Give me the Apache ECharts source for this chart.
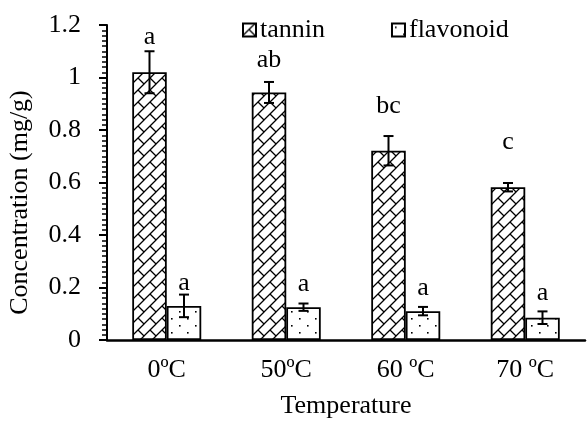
<!DOCTYPE html>
<html><head><meta charset="utf-8">
<script src="https://cdn.jsdelivr.net/npm/echarts@6/dist/echarts.min.js"></script>
<style>html,body{margin:0;padding:0;background:#fff}#c{width:587px;height:421px}</style>
</head><body><div id="c"></div>
<script>
var categories = ['0ºC', '50ºC', '60 ºC', '70 ºC'];
var tannin = [1.02, 0.943, 0.721, 0.582];
var tanninErr = [0.08, 0.04, 0.056, 0.016];
var flavonoid = [0.13, 0.125, 0.11, 0.085];
var flavonoidErr = [0.043, 0.014, 0.016, 0.024];
var tanninLetters = ['a', 'ab', 'bc', 'c'];
var tanninLetterY = [1.155, 1.067, 0.889, 0.755];
var flavonoidLetters = ['a', 'a', 'a', 'a'];
var flavonoidLetterY = [0.216, 0.213, 0.197, 0.178];
var yTicks = [0, 0.2, 0.4, 0.6, 0.8, 1, 1.2];

var FONT = '"Liberation Serif", "Times New Roman", serif';
var BAR_W = 34.5;

function makeHatch() {
  var c = document.createElement('canvas'); c.width = 12; c.height = 12;
  var x = c.getContext('2d');
  x.fillStyle = '#fff'; x.fillRect(0, 0, 12, 12);
  x.strokeStyle = '#000'; x.lineWidth = 1.3;
  x.beginPath();
  x.moveTo(-2, 14); x.lineTo(14, -2);
  x.moveTo(-7, 7); x.lineTo(7, -7);
  x.moveTo(5, 19); x.lineTo(19, 5);
  x.moveTo(6, 6); x.lineTo(12.5, 12.5);
  x.moveTo(-6, 6); x.lineTo(0.5, 12.5);
  x.moveTo(6, -6); x.lineTo(12.5, 0.5);
  x.stroke();
  return c;
}
function makeDots() {
  var c = document.createElement('canvas'); c.width = 16; c.height = 14;
  var x = c.getContext('2d');
  x.fillStyle = '#fff'; x.fillRect(0, 0, 16, 14);
  x.fillStyle = '#000';
  x.fillRect(3, 3, 1.6, 1.6);
  x.fillRect(11, 10, 1.6, 1.6);
  return c;
}
var hatch = { image: makeHatch(), repeat: 'repeat' };
var dots = { image: makeDots(), repeat: 'repeat' };

function errData(vals, errs, letters, ly) {
  return vals.map(function (v, i) { return [i, v - errs[i], v + errs[i], ly[i], letters[i]]; });
}
function errRender(offset) {
  return function (params, api) {
    var i = api.value(0);
    var lo = api.coord([i, api.value(1)]);
    var hi = api.coord([i, api.value(2)]);
    var lt = api.coord([i, api.value(3)]);
    var x = lo[0] + offset;
    var cap = 5;
    return {
      type: 'group',
      children: [
        { type: 'line', shape: { x1: x, y1: lo[1], x2: x, y2: hi[1] }, style: { stroke: '#000', lineWidth: 2 } },
        { type: 'line', shape: { x1: x - cap, y1: lo[1], x2: x + cap, y2: lo[1] }, style: { stroke: '#000', lineWidth: 2 } },
        { type: 'line', shape: { x1: x - cap, y1: hi[1], x2: x + cap, y2: hi[1] }, style: { stroke: '#000', lineWidth: 2 } },
        { type: 'text', style: { x: x, y: lt[1], text: api.value(4), font: '26px ' + FONT, fill: '#000', align: 'center', verticalAlign: 'middle' } }
      ]
    };
  };
}

var chart = echarts.init(document.getElementById('c'), null, { renderer: 'canvas' });
chart.setOption({
  animation: false,
  backgroundColor: '#fff',
  textStyle: { fontFamily: FONT, color: '#000' },
  grid: { left: 107, right: 2, top: 25, bottom: 81, containLabel: false, outerBoundsMode: 'none' },
  legend: {
    left: 242, top: 17, padding: 0, itemGap: 66, itemWidth: 13, itemHeight: 13,
    icon: 'rect',
    textStyle: { fontFamily: FONT, fontSize: 26, color: '#000', padding: [0, 0, 0, -1] },
    data: ['tannin', 'flavonoid']
  },
  xAxis: {
    type: 'category', data: categories,
    name: 'Temperature', nameLocation: 'middle', nameGap: 53,
    nameTextStyle: { fontFamily: FONT, fontSize: 26, color: '#000' },
    axisLine: { lineStyle: { color: '#000', width: 2.5 } },
    axisTick: { show: false },
    axisLabel: { fontFamily: FONT, fontSize: 26, color: '#000', margin: 17 }
  },
  yAxis: {
    type: 'value', min: 0, max: 1.2, interval: 0.2,
    name: 'Concentration (mg/g)', nameLocation: 'middle', nameGap: 74,
    nameTextStyle: { fontFamily: FONT, fontSize: 26, color: '#000', padding: [0, 40, 0, 0] },
    axisLine: { show: true, lineStyle: { color: '#000', width: 2 } },
    axisTick: { show: true, length: 8, lineStyle: { color: '#000', width: 2 } },
    minorTick: { show: true, splitNumber: 10, length: 5, lineStyle: { color: '#000', width: 1.5 } },
    splitLine: { show: false },
    axisLabel: {
      fontFamily: FONT, fontSize: 26, color: '#000', margin: 26,
      formatter: function (v) { var t = yTicks.find(function (k) { return Math.abs(k - v) < 1e-6; }); return t === undefined ? '' : String(t); }
    }
  },
  series: [
    { name: 'tannin', type: 'bar', data: tannin, barWidth: BAR_W, barGap: '0%',
      itemStyle: { color: hatch, borderColor: '#000', borderWidth: 1.8 } },
    { name: 'flavonoid', type: 'bar', data: flavonoid, barWidth: BAR_W, barGap: '0%',
      itemStyle: { color: dots, borderColor: '#000', borderWidth: 1.8 } },
    { type: 'custom', renderItem: errRender(-BAR_W / 2), data: errData(tannin, tanninErr, tanninLetters, tanninLetterY), z: 10 },
    { type: 'custom', renderItem: errRender(BAR_W / 2), data: errData(flavonoid, flavonoidErr, flavonoidLetters, flavonoidLetterY), z: 10 }
  ]
});
</script></body></html>
